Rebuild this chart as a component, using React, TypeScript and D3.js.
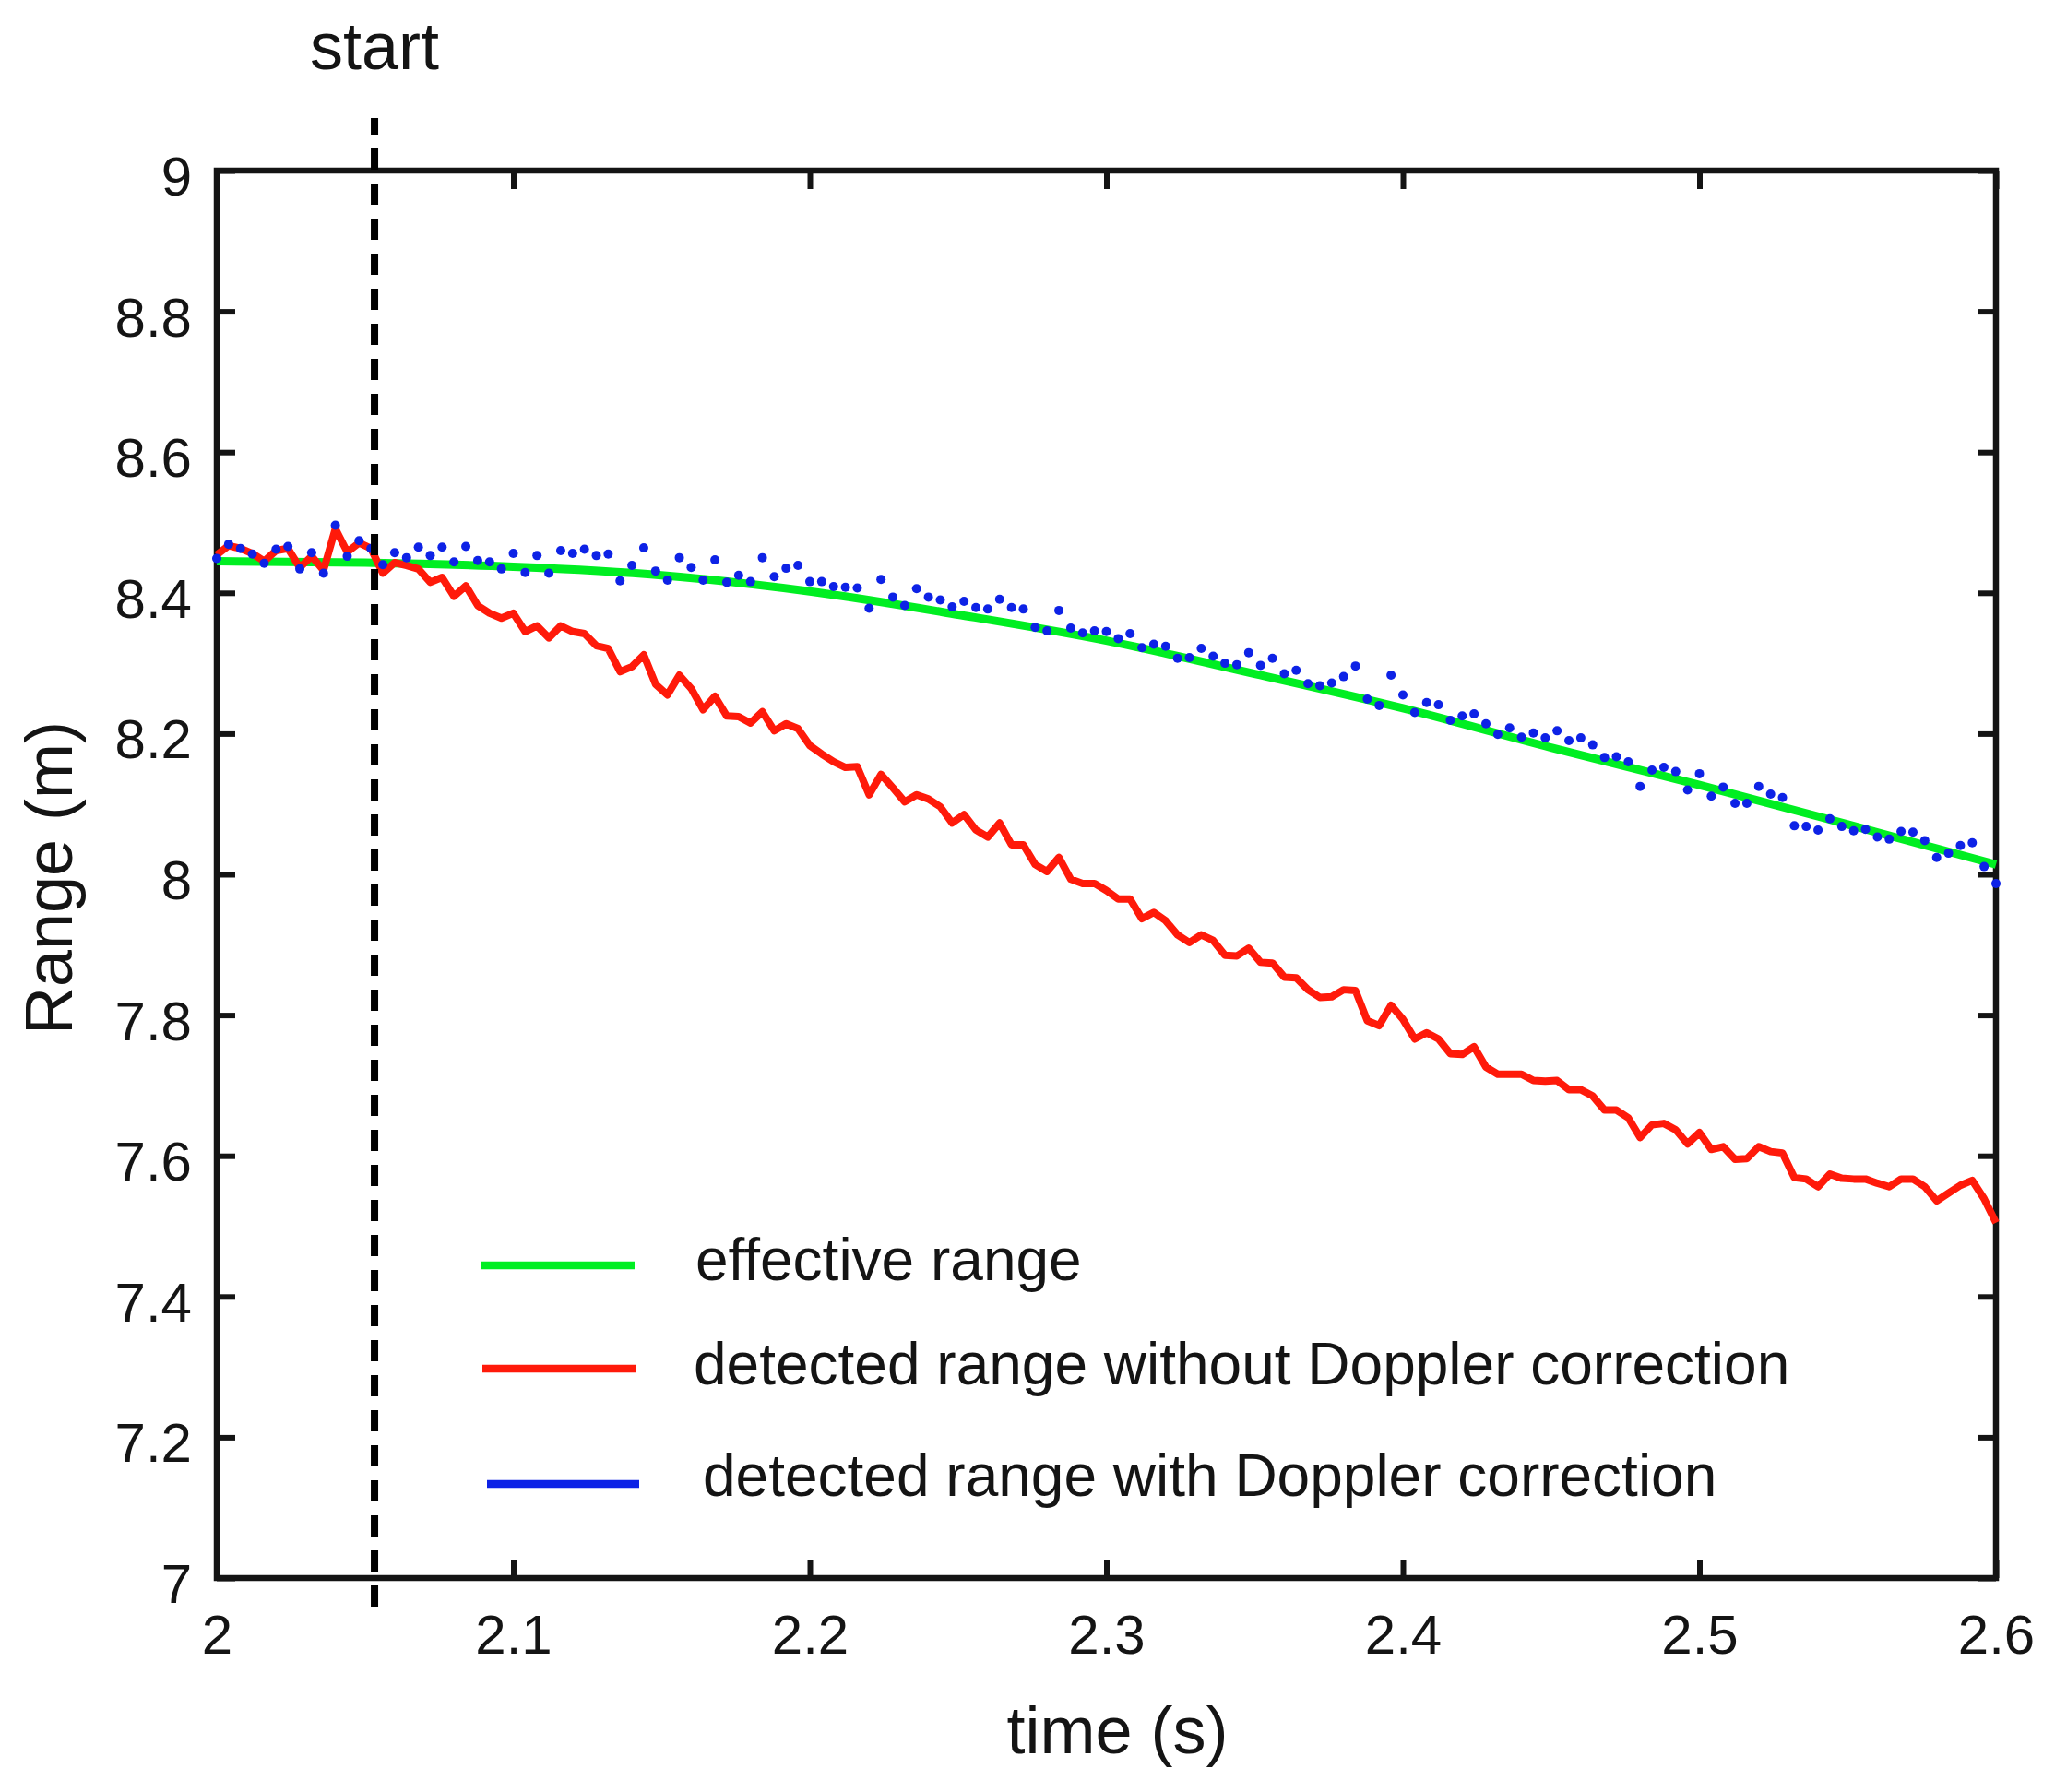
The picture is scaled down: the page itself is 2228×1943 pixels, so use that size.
import { useEffect, useRef } from "react";
import * as d3 from "d3";

// 유효 거리 (매끈한 곡선, 0.05 s 간격으로 읽은 값)
const EFFECTIVE_T = [2.0, 2.05, 2.1, 2.15, 2.2, 2.25, 2.3, 2.35, 2.4, 2.45, 2.5, 2.55, 2.6];
const EFFECTIVE_R = [8.445, 8.443, 8.437, 8.425, 8.402, 8.369, 8.332, 8.285, 8.236, 8.18, 8.127, 8.071, 8.014];

// 샘플 시각: 2 s 부터 0.004 s 간격
const T0 = 2;
const DT = 0.004;

// 도플러 보정 없는 검출 거리 (빨간 선)
const NO_DOPPLER = [
  8.454, 8.467, 8.463, 8.456, 8.445, 8.46, 8.463, 8.436, 8.452, 8.432,
  8.491, 8.458, 8.471, 8.463, 8.428, 8.443, 8.439, 8.434, 8.415, 8.422,
  8.395, 8.41, 8.382, 8.371, 8.364, 8.371, 8.345, 8.353, 8.336, 8.353,
  8.345, 8.342, 8.325, 8.321, 8.288, 8.295, 8.312, 8.27, 8.255,
  8.283, 8.264, 8.234, 8.253, 8.225, 8.224, 8.215, 8.231, 8.204, 8.214,
  8.207, 8.183, 8.171, 8.16, 8.152, 8.153, 8.113, 8.142, 8.123, 8.103,
  8.113, 8.107, 8.096, 8.073, 8.085, 8.063, 8.053, 8.073, 8.042, 8.042,
  8.014, 8.004, 8.024, 7.993, 7.987, 7.987, 7.977, 7.965,
  7.965, 7.937, 7.946, 7.934, 7.914, 7.903, 7.914, 7.906, 7.885, 7.884,
  7.895, 7.875, 7.874, 7.854, 7.853, 7.836, 7.825, 7.826, 7.836, 7.835,
  7.792, 7.785, 7.814, 7.794, 7.766, 7.775, 7.766, 7.745, 7.744, 7.755,
  7.726, 7.716, 7.716, 7.716, 7.707, 7.706, 7.707, 7.694, 7.694,
  7.685, 7.665, 7.665, 7.654, 7.626, 7.644, 7.646, 7.637, 7.617, 7.633,
  7.609, 7.613, 7.595, 7.596, 7.613, 7.606, 7.604, 7.569, 7.567, 7.556,
  7.574, 7.568, 7.567, 7.567, 7.561, 7.556, 7.567, 7.567, 7.556, 7.536,
  7.547, 7.558, 7.565, 7.539, 7.505,
];

// 도플러 보정 후 검출 거리 (파란 점)
const WITH_DOPPLER = [
  8.449, 8.469, 8.463, 8.455, 8.442, 8.462, 8.466, 8.434, 8.457, 8.428,
  8.496, 8.452, 8.474, 8.463, 8.44, 8.457, 8.45, 8.465, 8.453, 8.465,
  8.444, 8.466, 8.446, 8.444, 8.434, 8.456, 8.429, 8.453, 8.428, 8.46,
  8.456, 8.462, 8.453, 8.455, 8.417, 8.439, 8.464, 8.431, 8.418,
  8.45, 8.436, 8.418, 8.447, 8.415, 8.425, 8.416, 8.45, 8.423, 8.435,
  8.439, 8.416, 8.416, 8.409, 8.408, 8.407, 8.378, 8.419, 8.394, 8.382,
  8.406, 8.394, 8.39, 8.38, 8.388, 8.379, 8.377, 8.391, 8.379, 8.377,
  8.351, 8.346, 8.375, 8.35, 8.343, 8.346, 8.345, 8.335,
  8.342, 8.322, 8.327, 8.324, 8.307, 8.308, 8.321, 8.31, 8.3, 8.298,
  8.315, 8.297, 8.307, 8.285, 8.29, 8.271, 8.268, 8.272, 8.281, 8.296,
  8.249, 8.24, 8.283, 8.255, 8.23, 8.244, 8.241, 8.219, 8.225, 8.228,
  8.214, 8.199, 8.208, 8.195, 8.201, 8.194, 8.204, 8.19, 8.194,
  8.184, 8.166, 8.167, 8.16, 8.125, 8.148, 8.152, 8.146, 8.12, 8.143,
  8.111, 8.124, 8.101, 8.101, 8.125, 8.114, 8.109, 8.069, 8.068, 8.063,
  8.079, 8.068, 8.062, 8.064, 8.053, 8.05, 8.061, 8.06, 8.048, 8.024,
  8.03, 8.041, 8.045, 8.011, 7.987,
];

const START_T = 2.0532;
const X_TICKS = [2, 2.1, 2.2, 2.3, 2.4, 2.5, 2.6];
const Y_TICKS = [7, 7.2, 7.4, 7.6, 7.8, 8, 8.2, 8.4, 8.6, 8.8, 9];
const LEGEND_LABELS = [
  "effective range",
  "detected range without Doppler correction",
  "detected range with Doppler correction",
];

const GREEN = "#00ee22";
const RED = "#ff1a0a";
const BLUE = "#0d22e6";
const INK = "#141414";
const FONT = "'Liberation Sans', Arial, Helvetica, sans-serif";

export default function App() {
  const svgRef = useRef<SVGSVGElement>(null);

  useEffect(() => {
    document.body.style.margin = "0";
    if (!svgRef.current) return;
    const svg = d3.select(svgRef.current);
    svg.selectAll("*").remove();

    const L = 235, R = 2164, T = 185, B = 1711;
    const x = d3.scaleLinear().domain([2, 2.6]).range([L, R]);
    const y = d3.scaleLinear().domain([7, 9]).range([B, T]);
    const fmt = (d: d3.NumberValue) => String(+(+d).toFixed(1));

    svg.append("rect").attr("width", 2228).attr("height", 1943).attr("fill", "white");

    // 축 (MATLAB 스타일: 안쪽 눈금, 네 면 모두)
    const styleAxis = (ax: d3.Selection<SVGGElement, unknown, null, undefined>, fs: number) => {
      ax.select(".domain").remove();
      ax.selectAll("line").attr("stroke", INK).attr("stroke-width", 6);
      ax.selectAll("text").attr("fill", INK).style("font-size", `${fs}px`).style("font-family", FONT);
    };

    svg.append("g")
      .attr("transform", `translate(0,${B})`)
      .call(d3.axisBottom(x).tickValues(X_TICKS).tickFormat(fmt).tickSizeInner(-20).tickSizeOuter(0).tickPadding(39))
      .call((ax) => styleAxis(ax, 60));
    svg.append("g")
      .attr("transform", `translate(0,${T})`)
      .call(d3.axisTop(x).tickValues(X_TICKS).tickFormat(() => "").tickSizeInner(-20).tickSizeOuter(0))
      .call((ax) => styleAxis(ax, 60));
    svg.append("g")
      .attr("transform", `translate(${L},0)`)
      .call(d3.axisLeft(y).tickValues(Y_TICKS).tickFormat(fmt).tickSizeInner(-20).tickSizeOuter(0).tickPadding(27))
      .call((ax) => styleAxis(ax, 60))
      .call((ax) => ax.selectAll("text").attr("dy", "0.44em"));
    svg.append("g")
      .attr("transform", `translate(${R},0)`)
      .call(d3.axisRight(y).tickValues(Y_TICKS).tickFormat(() => "").tickSizeInner(-20).tickSizeOuter(0))
      .call((ax) => styleAxis(ax, 60));

    svg.append("rect")
      .attr("x", L).attr("y", T).attr("width", R - L).attr("height", B - T)
      .attr("fill", "none").attr("stroke", INK).attr("stroke-width", 6.5);

    // 유효 거리
    const effLine = d3.line<number>()
      .x((_, i) => x(EFFECTIVE_T[i])).y((d) => y(d)).curve(d3.curveMonotoneX);
    svg.append("path").datum(EFFECTIVE_R)
      .attr("fill", "none").attr("stroke", GREEN).attr("stroke-width", 9)
      .attr("d", effLine);

    // 보정 없는 검출 거리
    const sampleLine = d3.line<number>().x((_, i) => x(T0 + i * DT)).y((d) => y(d));
    svg.append("path").datum(NO_DOPPLER)
      .attr("fill", "none").attr("stroke", RED).attr("stroke-width", 8)
      .attr("stroke-linejoin", "round")
      .attr("d", sampleLine);

    // 보정 후 검출 거리
    svg.append("g").selectAll("circle")
      .data(WITH_DOPPLER)
      .join("circle")
      .attr("cx", (_, i) => x(T0 + i * DT)).attr("cy", (d) => y(d))
      .attr("r", 5).attr("fill", BLUE);

    // 시작 시점 점선
    svg.append("line")
      .attr("x1", x(START_T)).attr("x2", x(START_T))
      .attr("y1", 128).attr("y2", 1757)
      .attr("stroke", "black").attr("stroke-width", 8)
      .attr("stroke-dasharray", "23,15").attr("stroke-dashoffset", 5);
    svg.append("text")
      .attr("x", x(START_T)).attr("y", 75)
      .attr("text-anchor", "middle")
      .style("font-family", FONT).style("font-size", "72px").attr("fill", INK)
      .text("start");

    // 범례
    const legendColors = [GREEN, RED, BLUE];
    const legendRows = [
      { x1: 522, x2: 688, ly: 1372, tx: 754, ty: 1388 },
      { x1: 523, x2: 690, ly: 1484, tx: 752, ty: 1501 },
      { x1: 528, x2: 693, ly: 1609, tx: 762, ty: 1622 },
    ];
    LEGEND_LABELS.forEach((label, i) => {
      const r = legendRows[i];
      svg.append("line")
        .attr("x1", r.x1).attr("x2", r.x2).attr("y1", r.ly).attr("y2", r.ly)
        .attr("stroke", legendColors[i]).attr("stroke-width", 8.5);
      svg.append("text")
        .attr("x", r.tx).attr("y", r.ty)
        .style("font-family", FONT).style("font-size", "64px").attr("fill", INK)
        .text(label);
    });

    // 축 제목
    svg.append("text")
      .attr("x", (L + R) / 2 + 12).attr("y", 1901)
      .attr("text-anchor", "middle")
      .style("font-family", FONT).style("font-size", "72px").attr("fill", INK)
      .text("time (s)");
    svg.append("text")
      .attr("transform", `translate(78,${(T + B) / 2 + 4}) rotate(-90)`)
      .attr("text-anchor", "middle")
      .style("font-family", FONT).style("font-size", "72px").attr("fill", INK)
      .text("Range (m)");
  }, []);

  return <svg ref={svgRef} width={2228} height={1943} style={{ display: "block" }} />;
}
